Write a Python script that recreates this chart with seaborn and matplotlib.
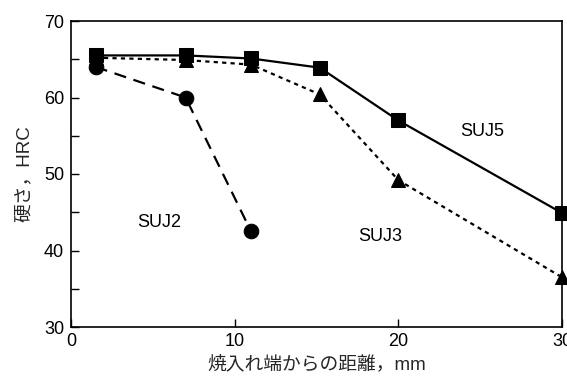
import matplotlib
matplotlib.use("Agg")
import matplotlib.pyplot as plt
import seaborn as sns
import pandas as pd

dist_suj2 = [1.5, 7.0, 11.0]
hrc_suj2 = [64.0, 60.0, 42.5]
dist_suj3 = [1.5, 7.0, 11.0, 15.2, 20.0, 30.0]
hrc_suj3 = [65.2, 64.9, 64.3, 60.4, 49.2, 36.5]
dist_suj5 = [1.5, 7.0, 11.0, 15.2, 20.0, 30.0]
hrc_suj5 = [65.5, 65.5, 65.1, 63.9, 57.0, 44.9]
labels = ["SUJ2", "SUJ3", "SUJ5"]
label_pos = [(5.4, 43.6), (18.9, 41.8), (25.1, 55.6)]

sns.set_theme(style="ticks")
plt.rcParams['font.family'] = ['Liberation Sans', 'Noto Sans CJK JP', 'DejaVu Sans']

fig = plt.figure(figsize=(5.67, 3.82), dpi=100)
ax = fig.add_axes([71/567, 1-327/382, (562-71)/567, (327-21)/382])

df2 = pd.DataFrame({"x": dist_suj2, "y": hrc_suj2})
df3 = pd.DataFrame({"x": dist_suj3, "y": hrc_suj3})
df5 = pd.DataFrame({"x": dist_suj5, "y": hrc_suj5})

sns.lineplot(data=df5, x="x", y="y", ax=ax, color="black", lw=1.6,
             marker="s", markersize=9.5, markeredgecolor="black", clip_on=False, zorder=3)
sns.lineplot(data=df3, x="x", y="y", ax=ax, color="black", lw=1.6,
             marker="^", markersize=10, markeredgecolor="black", clip_on=False, zorder=4)
sns.lineplot(data=df2, x="x", y="y", ax=ax, color="black", lw=1.6,
             marker="o", markersize=10.5, markeredgecolor="black", clip_on=False, zorder=5)
lines = ax.get_lines()
lines[1].set_dashes([1.9, 1.9])
lines[2].set_dashes([5.5, 3.5])

for lab, (px, py) in zip(labels, label_pos):
    ax.text(px, py, lab, fontsize=13, ha="center", va="center", color="black")

ax.set_xlim(0, 30)
ax.set_ylim(30, 70)
ax.set_xticks([0, 10, 20, 30])
ax.set_yticks([30, 40, 50, 60, 70])
ax.set_yticks([35, 45, 55, 65], minor=True)
ax.tick_params(axis="both", which="both", direction="in", labelsize=13, colors="black",
               top=False, right=False)
ax.tick_params(axis="both", which="major", length=6, width=1)
ax.tick_params(axis="x", which="major", pad=4)
ax.tick_params(axis="y", which="major", pad=5)
ax.tick_params(axis="y", which="minor", length=6, width=1)
for s in ax.spines.values():
    s.set_linewidth(1.2)
    s.set_color("black")
ax.set_xlabel("焼入れ端からの距離，mm", fontsize=13.5, labelpad=4)
ax.set_ylabel("硬さ，HRC", fontsize=13.5, labelpad=8)

fig.savefig("out.png", dpi=100)
